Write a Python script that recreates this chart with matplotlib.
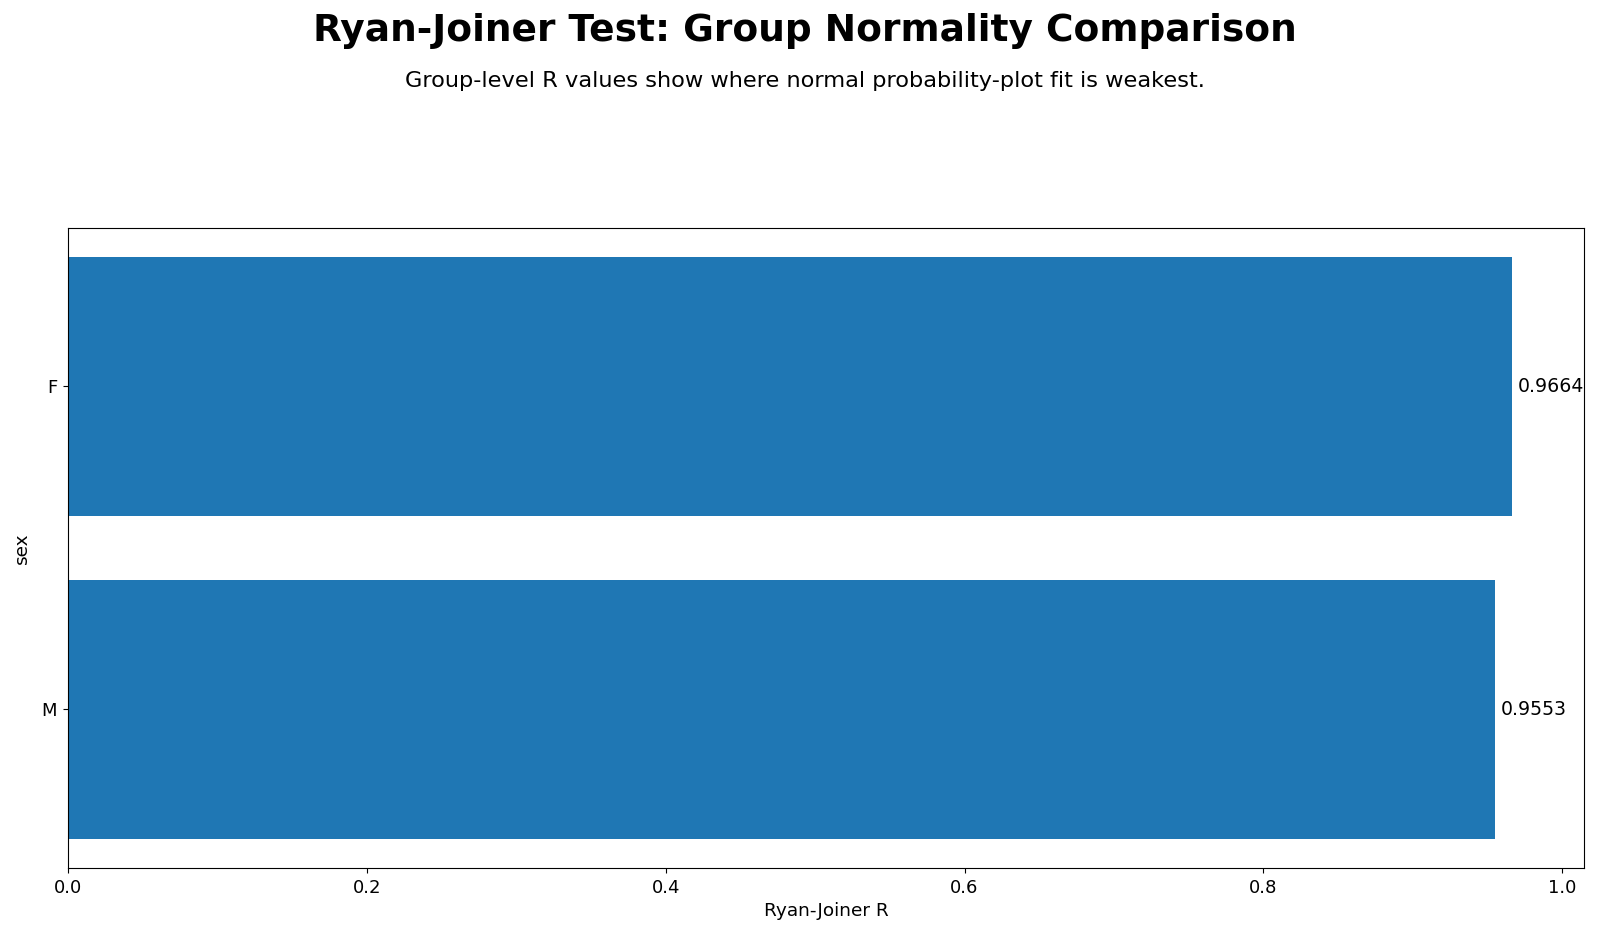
import matplotlib
matplotlib.use("Agg")
import matplotlib.pyplot as plt

groups = ["M", "F"]
r_values = [0.9553, 0.9664]

fig = plt.figure(figsize=(16, 9.39), dpi=100)
ax = fig.add_axes([0.0427, 0.076, 0.9473, 0.681])

ax.barh(groups, r_values, color="#1f77b4")
for i, v in enumerate(r_values):
    ax.text(v + 0.004, i, f"{v:.4f}", va="center", ha="left", fontsize=13.6)

ax.set_xlabel("Ryan-Joiner R", fontsize=13.3)
ax.set_ylabel("sex", fontsize=13.3)
ax.tick_params(labelsize=13, pad=4.5)
ax.yaxis.labelpad = 8

fig.text(0.503, 0.967, "Ryan-Joiner Test: Group Normality Comparison",
         ha="center", va="center", fontsize=27, fontweight="bold")
fig.text(0.503, 0.914, "Group-level R values show where normal probability-plot fit is weakest.",
         ha="center", va="center", fontsize=16.2)

fig.savefig("out.png", dpi=100)
